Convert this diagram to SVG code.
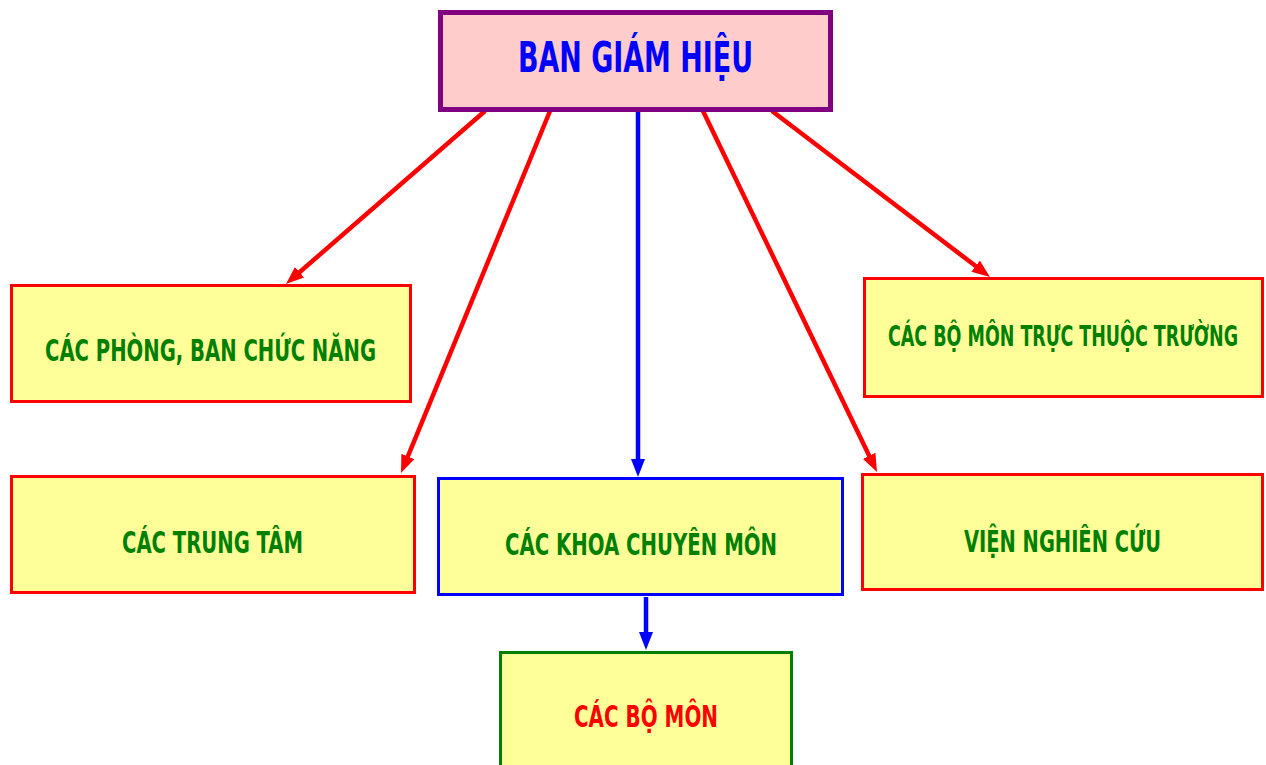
<svg xmlns="http://www.w3.org/2000/svg" width="1266" height="765" viewBox="0 0 1266 765">
<style>
.box{fill:#FFFF99;stroke-width:3}
.red{stroke:#FF0000}
.t{font-family:"Liberation Sans Narrow","Arial Narrow","DejaVu Sans Condensed","Liberation Sans",sans-serif;font-weight:bold;text-anchor:middle}
.g{fill:#008000;font-size:30px}
.ar{stroke:#FF0000;stroke-width:4.5;fill:none;marker-end:url(#ah-r)}
.ab{stroke:#0000FF;stroke-width:4.5;fill:none;marker-end:url(#ah-b)}
</style>
<defs>
<marker id="ah-r" markerUnits="userSpaceOnUse" markerWidth="18" markerHeight="14" refX="7" refY="7" orient="auto"><path d="M0,0 L18,7 L0,14 z" fill="#FF0000"/></marker>
<marker id="ah-b" markerUnits="userSpaceOnUse" markerWidth="18" markerHeight="14" refX="7" refY="7" orient="auto"><path d="M0,0 L18,7 L0,14 z" fill="#0000FF"/></marker>
</defs>
<rect width="1266" height="765" fill="#FFFFFF"/>
<g id="connectors">
<line class="ar" x1="485" y1="111" x2="294.3" y2="276.8"/>
<line class="ar" x1="550" y1="111" x2="405.2" y2="462.9"/>
<line class="ab" x1="638" y1="111" x2="638" y2="466"/>
<line class="ar" x1="703" y1="111" x2="872.2" y2="462.1"/>
<line class="ar" x1="772" y1="111" x2="981.2" y2="270.3"/>
<line class="ab" x1="646" y1="597" x2="646" y2="639"/>
</g>
<g id="ban-giam-hieu">
<rect x="440.5" y="12.5" width="390" height="97" fill="#FFCCCC" stroke="#800080" stroke-width="5"/>
<text class="t" x="635.5" y="72" font-size="42" fill="#0000FF" textLength="235" lengthAdjust="spacingAndGlyphs">BAN GIÁM HIỆU</text>
</g>
<g id="phong-ban">
<rect class="box red" x="11.5" y="285.5" width="399" height="116"/>
<text class="t g" x="210.5" y="361" textLength="331" lengthAdjust="spacingAndGlyphs">CÁC PHÒNG, BAN CHỨC NĂNG</text>
</g>
<g id="trung-tam">
<rect class="box red" x="11.5" y="476.5" width="403" height="116"/>
<text class="t g" x="212.5" y="553" textLength="181" lengthAdjust="spacingAndGlyphs">CÁC TRUNG TÂM</text>
</g>
<g id="khoa">
<rect class="box" x="438.5" y="478.5" width="404" height="116" stroke="#0000FF"/>
<text class="t g" x="641" y="555" textLength="272" lengthAdjust="spacingAndGlyphs">CÁC KHOA CHUYÊN MÔN</text>
</g>
<g id="bo-mon-truc-thuoc">
<rect class="box red" x="864.5" y="278.5" width="398" height="118"/>
<text class="t g" transform="translate(1063,346) scale(0.7,1)" x="0" y="0" style="font-size:29px" textLength="500" lengthAdjust="spacingAndGlyphs">CÁC BỘ MÔN TRỰC THUỘC TRƯỜNG</text>
</g>
<g id="vien">
<rect class="box red" x="862.5" y="474.5" width="400" height="115"/>
<text class="t g" x="1062.5" y="552" textLength="197" lengthAdjust="spacingAndGlyphs">VIỆN NGHIÊN CỨU</text>
</g>
<g id="bo-mon">
<rect class="box" x="500.5" y="652.5" width="291" height="130" stroke="#008000"/>
<text class="t" x="646" y="727" font-size="30" fill="#FF0000" textLength="144" lengthAdjust="spacingAndGlyphs">CÁC BỘ MÔN</text>
</g>
</svg>
